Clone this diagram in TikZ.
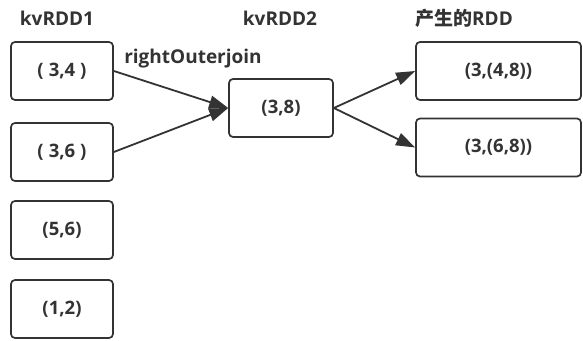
\documentclass[tikz,border=0pt]{standalone}
\usepackage{fontspec}
\setmainfont{Open Sans}
\newfontfamily\cjk{Noto Sans CJK SC}
\usetikzlibrary{arrows.meta}
\definecolor{ink}{HTML}{333333}
\tikzset{
  box/.style={draw=ink, line width=1.7pt, rounded corners=4pt, inner sep=0pt,
    font=\bfseries\fontsize{18.5}{21}\selectfont, text=ink},
  title/.style={font=\bfseries\fontsize{19}{22}\selectfont, text=ink},
  flow/.style={draw=ink, line width=1.8pt, -{Triangle[length=19pt,width=13pt]}}
}
\newcommand{\padsp}{\hspace{5pt}}
\begin{document}
\begin{tikzpicture}[x=1pt,y=1pt]
\useasboundingbox (0,0) rectangle (583,340);
% source pairs
\node[box, minimum width=102pt, minimum height=58pt] (a1) at (62,269) {(\padsp 3,4\padsp)};
\node[box, minimum width=102pt, minimum height=58pt] (a2) at (62,188) {(\padsp 3,6\padsp)};
\node[box, minimum width=102pt, minimum height=58pt] (a3) at (62,110) {(5,6)};
\node[box, minimum width=102pt, minimum height=58pt] (a4) at (62,31) {(1,2)};
% joined side
\node[box, minimum width=104pt, minimum height=58pt] (b) at (281,232) {(3,8)};
% results
\node[box, minimum width=165pt, minimum height=58pt] (r1) at (498.5,269) {(3,(4,8))};
\node[box, minimum width=165pt, minimum height=58pt] (r2) at (498.5,192.5) {(3,(6,8))};
% headings
\node[title] (t1) at (57,322) {kvRDD1};
\node[title] (t2) at (280,322) {kvRDD2};
\node[title] (t3) at (464,322) {{\cjk\bfseries 产生的}RDD};
\node[title] (lbl) at (193,281) {rightOuterjoin};
% connectors
\draw[flow] (a1.east) -- (b.west);
\draw[flow] (a2.east) -- (b.west);
\draw[flow] (b.east) -- (r1.west);
\draw[flow] (b.east) -- (r2.west);
\end{tikzpicture}
\end{document}
